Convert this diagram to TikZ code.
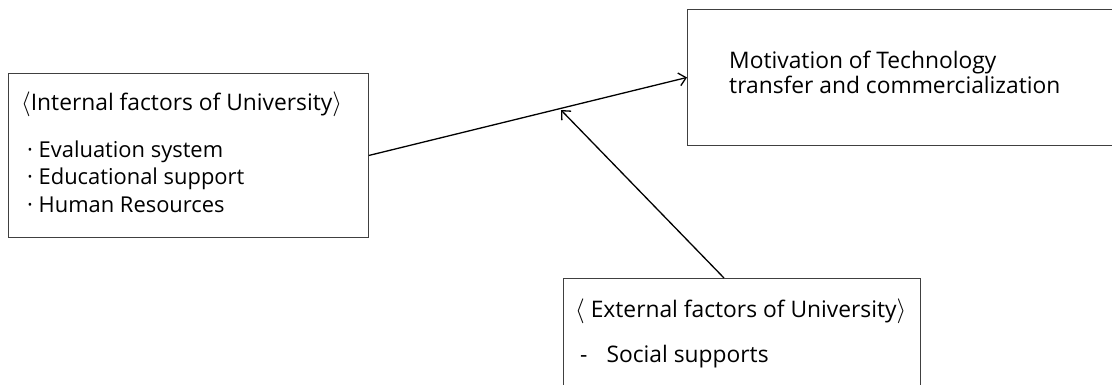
\documentclass[tikz,border=0pt]{standalone}
\usepackage{fontspec}
\setmainfont{Open Sans}
\usetikzlibrary{arrows.meta}
\newcommand{\lab}{{\fontsize{27}{27}\selectfont$\langle$}}
\newcommand{\rab}{{\fontsize{27}{27}\selectfont$\rangle$}}
\begin{document}
\begin{tikzpicture}[x=1pt,y=-1pt,
 box/.style={draw=black!75, line width=0.9pt, rectangle, inner sep=0pt, anchor=north west},
 txt/.style={inner sep=0pt, anchor=base west, font=\fontsize{22.8}{26}\selectfont},
 itm/.style={txt, font=\fontsize{21.9}{26}\selectfont},
 link/.style={draw=black, line width=1.3pt, -{Straight Barb[length=7pt,width=13pt,line width=1.3pt]}}]
\useasboundingbox (0,0) rectangle (1112,384);
\clip (0,0) rectangle (1112,384);
\fill[white] (0,0) rectangle (1112,384);
% boxes
\node[box, minimum width=360pt, minimum height=164pt] (inb) at (8,73) {};
\node[box, minimum width=440pt, minimum height=136pt] (mot) at (687,9) {};
\node[box, minimum width=357pt, minimum height=150pt] (exb) at (563,278) {};
% texts
\node[txt] (inh) at (21,110) {\lab Internal factors of University\rab};
\node[itm] (in1) at (27,157) {· Evaluation system};
\node[itm] (in2) at (27,184) {· Educational support};
\node[itm] (in3) at (27,212) {· Human Resources};
\node[txt] (mo1) at (729,68) {Motivation of Technology};
\node[txt] (mo2) at (729,93) {transfer and commercialization};
\node[txt] (exh) at (575,317) {\lab\ External factors of University\rab};
\node[txt] (ex1) at (580,362) {-\hspace{19pt}Social supports};
% connectors
\coordinate (tip) at (561,110);
\coordinate (src) at (724,278);
\draw[link] (inb.east) -- (mot.west);
\draw[link] (src) -- (tip);
\end{tikzpicture}
\end{document}
